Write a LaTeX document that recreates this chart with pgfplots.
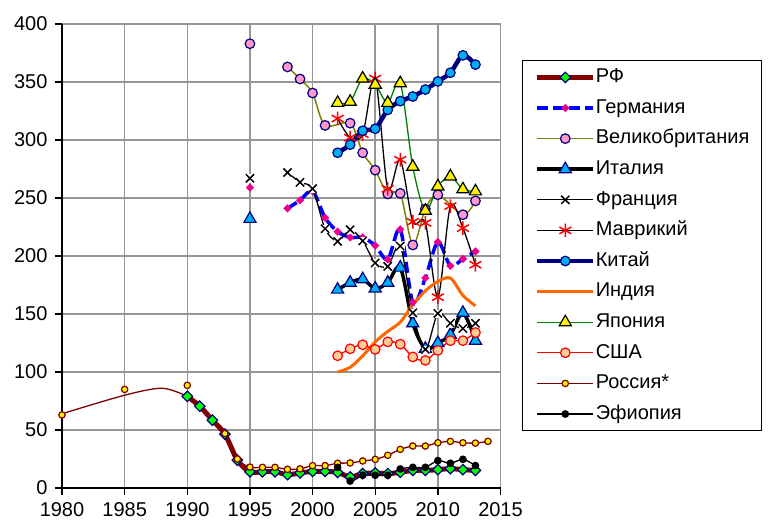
\documentclass[border=0pt]{standalone}
\usepackage{fontspec}
\setmainfont{Liberation Sans}
\usepackage{pgfplots}
\pgfplotsset{compat=1.18}
\definecolor{rfred}{RGB}{128,0,0}
\definecolor{navyc}{RGB}{0,0,128}
\definecolor{olivec}{RGB}{128,128,0}
\definecolor{pinkc}{RGB}{255,153,204}
\definecolor{peach}{RGB}{255,204,153}
\definecolor{orangec}{RGB}{255,102,0}
\definecolor{greenc}{RGB}{0,128,0}
\definecolor{gridc}{RGB}{150,150,150}
\begin{document}
\begin{tikzpicture}
\useasboundingbox (-62pt,-35pt) rectangle (706pt,488pt);
\begin{axis}[
  at={(0pt,0pt)}, anchor=south west,
  scale only axis, width=438.5pt, height=464pt,
  xmin=1980, xmax=2015, ymin=0, ymax=400,
  xtick={1980,1985,...,2015}, ytick={0,50,...,400},
  axis x line*=bottom, axis y line*=left,
  axis line style={line width=1.6pt, black, -},
  grid=major, major grid style={gridc, line width=1.5pt},
  tick align=outside, major tick length=7pt,
  tick style={line width=1.4pt, black},
  /pgf/number format/assume math mode=true,
  /pgf/number format/set thousands separator={},
  tick label style={font=\fontsize{20}{24}\selectfont},
  xticklabel style={yshift=-4pt},
  yticklabel style={xshift=-4pt},
  clip=false,
  unbounded coords=jump,
  every axis plot/.append style={smooth},
  legend style={at={(1.0495,0.9224)}, anchor=north west,
    draw=black, line width=1.2pt, fill=white,
    font=\fontsize{20}{24}\selectfont,
    nodes={inner sep=0pt, text height=15pt, text depth=4.6pt},
    row sep=11pt, inner xsep=12pt, inner ysep=7pt},
  legend cell align=left,
  legend image code/.code={\draw[mark repeat=2,mark phase=2,#1] plot coordinates {(0pt,0pt) (28pt,0pt) (56pt,0pt)};},
  /tikz/every even column/.append style={column sep=6pt},
]
% РФ
\addplot[rfred, line width=5pt, mark=square*, mark size=3.7pt,
  mark options={rotate=45, fill=green, draw=navyc, line width=1.2pt}]
 coordinates {(1990,79)(1991,70.5)(1992,58.5)(1993,46.5)(1994,24)(1995,14)(1996,14)(1997,14)(1998,11.5)(1999,13)(2000,14.3)(2001,14.3)(2002,13.5)(2003,9.5)(2004,12.4)(2005,13)(2006,12.4)(2007,13.5)(2008,15.2)(2009,15.2)(2010,15.8)(2011,16.7)(2012,15.8)(2013,15.2)};
\addlegendentry{РФ}
% Германия
\addplot[blue, line width=3.5pt, dash pattern=on 11pt off 5pt, mark=square*, mark size=2.8pt,
  mark options={solid, rotate=45, fill=magenta, draw=magenta, line width=0.1pt}]
 coordinates {(1995,259)(1996,nan)(1998,241)(1999,248)(2000,256)(2001,233)(2002,221)(2003,216)(2004,216)(2005,209)(2006,197)(2007,223)(2008,160)(2009,181)(2010,212)(2011,191.5)(2012,197.5)(2013,204)};
\addlegendentry{Германия}
% Великобритания
\addplot[olivec, line width=1.5pt, mark=*, mark size=4.8pt,
  mark options={fill=pinkc, draw=navyc, line width=1.2pt}]
 coordinates {(1995,383)(1996,nan)(1998,363)(1999,352.6)(2000,340.5)(2001,312.6)(2003,314.5)(2004,289)(2005,274)(2006,253.5)(2007,254)(2008,209.5)(2009,240.5)(2010,252.8)(2012,235.6)(2013,247.5)};
\addlegendentry{Великобритания}
% Италия
\addplot[black, line width=3.5pt, mark=triangle*, mark size=7pt,
  mark options={fill=cyan, draw=navyc, line width=1.2pt}]
 coordinates {(1995,232)(1996,nan)(2002,171)(2003,177)(2004,180)(2005,172)(2006,177)(2007,190)(2008,142)(2009,120)(2010,125)(2011,132)(2012,151)(2013,127)};
\addlegendentry{Италия}
% white backgrounds of the France markers
\addplot[only marks, forget plot, white, mark=square*, mark size=3.6pt,
  mark options={fill=white, draw=white}]
 coordinates {(1995,267)(1998,272)(1999,263.5)(2000,258)(2001,223.5)(2002,212.6)(2003,222.7)(2004,213)(2005,194)(2006,191)(2007,208.5)(2008,151)(2009,119.5)(2010,150.5)(2011,142)(2012,137.5)(2013,142)};
% Франция
\addplot[black, line width=1.3pt, mark=x, mark size=5.8pt,
  mark options={black, line width=1.5pt}]
 coordinates {(1995,267)(1996,nan)(1998,272)(1999,263.5)(2000,258)(2001,223.5)(2002,212.6)(2003,222.7)(2004,213)(2005,194)(2006,191)(2007,208.5)(2008,151)(2009,119.5)(2010,150.5)(2011,142)(2012,137.5)(2013,142)};
\addlegendentry{Франция}
% Маврикий
\addplot[black, line width=1.3pt, mark=asterisk, mark size=6.8pt,
  mark options={red, line width=1.5pt}]
 coordinates {(2002,318.5)(2003,302)(2004,305)(2005,353)(2006,258)(2007,283)(2008,229.5)(2009,228.5)(2010,164.5)(2011,243)(2012,224)(2013,192.5)};
\addlegendentry{Маврикий}
% Китай
\addplot[navyc, line width=4.5pt, mark=*, mark size=4.8pt,
  mark options={fill=cyan, draw=navyc, line width=1.2pt}]
 coordinates {(2002,289)(2003,296)(2004,308)(2005,309.7)(2006,326)(2007,333.5)(2008,337.5)(2009,343.5)(2010,350.5)(2011,358)(2012,373)(2013,365)};
\addlegendentry{Китай}
% Индия
\addplot[orangec, line width=3pt, no marks]
 coordinates {(2002,100)(2003,104)(2004,114)(2005,126)(2006,135)(2007,143)(2008,158)(2009,170)(2010,178)(2011,181)(2012,166)(2013,157)};
\addlegendentry{Индия}
% Япония
\addplot[greenc, line width=1.3pt, mark=triangle*, mark size=7pt,
  mark options={fill=yellow, draw=black, line width=1.2pt}]
 coordinates {(2002,332)(2003,333)(2004,353)(2005,347.7)(2006,332)(2007,349)(2008,277)(2009,239)(2010,260)(2011,268.6)(2012,257.5)(2013,255.7)};
\addlegendentry{Япония}
% США
\addplot[red, line width=1.3pt, mark=*, mark size=4.8pt,
  mark options={fill=peach, draw=red, line width=1.2pt}]
 coordinates {(2002,114)(2003,120)(2004,123.5)(2005,119.5)(2006,126)(2007,124)(2008,113)(2009,110)(2010,118.6)(2011,127)(2012,127)(2013,134)};
\addlegendentry{США}
% Россия* early curve and markers
\addplot[rfred, line width=1.3pt, no marks, forget plot]
 coordinates {(1980,64)(1985,80)(1988,86)(1990,79)};
\addplot[only marks, forget plot, mark=*, mark size=3.2pt,
  mark options={fill=yellow, draw=rfred, line width=1.2pt}]
 coordinates {(1980,63)(1985,85)(1990,88.5)};
% Россия*
\addplot[rfred, line width=1.3pt, mark=*, mark size=3.2pt,
  mark options={fill=yellow, draw=rfred, line width=1.2pt}]
 coordinates {(1993,47)(1994,25)(1995,18)(1996,17.8)(1997,17.8)(1998,16.1)(1999,16.5)(2000,19.3)(2001,19.3)(2002,21.3)(2003,21.6)(2004,23.3)(2005,24.7)(2006,28.2)(2007,33.3)(2008,36.2)(2009,36.2)(2010,39)(2011,40.2)(2012,39)(2013,38.7)(2014,40.2)};
\addlegendentry{Россия*}
% Эфиопия
\addplot[black, line width=1.3pt, mark=*, mark size=3.2pt,
  mark options={fill=black, draw=black}]
 coordinates {(2002,17.8)(2003,6)(2004,11)(2005,11)(2006,11)(2007,16.4)(2008,17.8)(2009,17.8)(2010,23.6)(2011,21.3)(2012,24.7)(2013,19.3)};
\addlegendentry{Эфиопия}
\end{axis}
\end{tikzpicture}
\end{document}
